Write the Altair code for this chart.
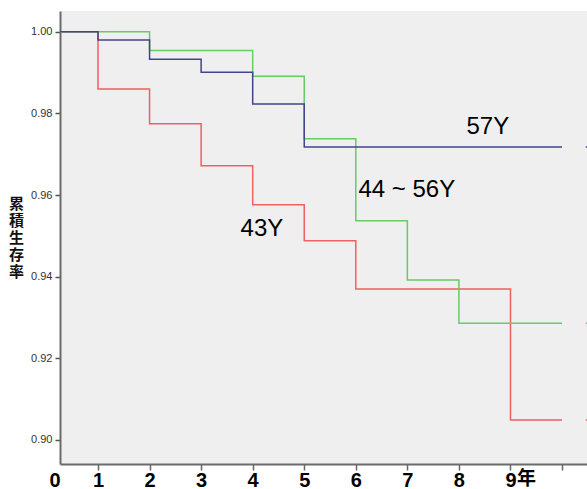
import altair as alt
import pandas as pd

# ---- data ----
years = [0, 1, 2, 3, 4, 5, 6, 7, 8, 9, 10]
s57 = [1.000, 0.9980, 0.9933, 0.9901, 0.9823, 0.9718, 0.9718, 0.9718, 0.9718, 0.9718, 0.9718]
s44_56 = [1.000, 1.000, 0.9954, 0.9954, 0.9891, 0.9738, 0.9537, 0.9392, 0.9286, 0.9286, 0.9286]
s43 = [1.000, 0.9860, 0.9775, 0.9672, 0.9576, 0.9488, 0.9370, 0.9370, 0.9370, 0.9049, 0.9049]
series_names = ["43Y", "44～56Y", "57Y"]
series_colors = ["#f06060", "#66cc66", "#44448a"]
y_ticks = [0.90, 0.92, 0.94, 0.96, 0.98, 1.00]
x_ticks = [1, 2, 3, 4, 5, 6, 7, 8, 9, 10]

rows = []
for name, vals in zip(series_names, [s43, s44_56, s57]):
    for t, v in zip(years, vals):
        rows.append({"t": t, "s": v, "g": name})
df = pd.DataFrame(rows)

# continuation stubs at right edge
tail_t0 = 10.46
tail_t1 = 10.7
tail_rows = []
for name, vals in zip(series_names, [s43, s44_56, s57]):
    tail_rows.append({"t": tail_t0, "t2": tail_t1, "s": vals[-1], "g": name})
tail = pd.DataFrame(tail_rows)

labels = pd.DataFrame({
    "t": [8.56, 6.99, 4.18],
    "s": [0.9767, 0.9613, 0.9517],
    "txt": ["57Y", "44 ~ 56Y", "43Y"],
})

xs = alt.Scale(domain=[0.263, 10.484], nice=False, zero=False)
ys = alt.Scale(domain=[0.8941, 1.0051], nice=False, zero=False)
col = alt.Scale(domain=series_names, range=series_colors)

lines = alt.Chart(df).mark_line(interpolate="step-after", strokeWidth=1.5, clip=True).encode(
    x=alt.X("t:Q", scale=xs,
            axis=alt.Axis(values=x_ticks, title=None, grid=False,
                          labelExpr="datum.value == 10 ? '' : datum.value",
                          labelFontSize=20, labelFontWeight="bold", labelColor="#000",
                          labelFont="Liberation Sans", labelPadding=0,
                          tickSize=6, tickColor="#666", tickWidth=1.5,
                          domainColor="#6b6b6b", domainWidth=2)),
    y=alt.Y("s:Q", scale=ys,
            axis=alt.Axis(values=y_ticks, format=".2f", grid=False,
                          title=["累", "積", "生", "存", "率"], titleAngle=0,
                          titleFont="Noto Sans CJK JP", titleFontSize=15, titleFontWeight="bold",
                          titleColor="#111", titleX=-44, titleY=185, titleAlign="center",
                          titleBaseline="top", titleLineHeight=17,
                          labelFontSize=11, labelColor="#333", labelFont="Liberation Sans",
                          labelPadding=3, tickSize=5, tickColor="#555", tickWidth=1.5,
                          domainColor="#6b6b6b", domainWidth=2)),
    color=alt.Color("g:N", scale=col, legend=None),
    order=alt.Order("t:Q"),
    detail="g:N",
)

stubs = alt.Chart(tail).mark_rule(strokeWidth=1.5, clip=True).encode(
    x="t:Q", x2="t2:Q", y="s:Q",
    color=alt.Color("g:N", scale=col, legend=None),
)

ann = alt.Chart(labels).mark_text(fontSize=24, font="Liberation Sans", color="#000",
                                  align="center", baseline="middle").encode(
    x="t:Q", y="s:Q", text="txt:N")

zero_lab = alt.Chart(pd.DataFrame({"t": [0.263], "txt": ["0"]})).mark_text(
    fontSize=20, fontWeight="bold", font="Liberation Sans", color="#000",
    align="center", baseline="top", dx=-5).encode(
    x="t:Q", y=alt.value(460), text="txt:N")

nen_lab = alt.Chart(pd.DataFrame({"t": [9], "txt": ["年"]})).mark_text(
    fontSize=19, fontWeight="bold", font="Noto Sans CJK JP", color="#000",
    align="center", baseline="top", dx=16).encode(
    x="t:Q", y=alt.value(459), text="txt:N")

chart = alt.layer(lines, stubs, ann, zero_lab, nen_lab).properties(
    width=527, height=453,
    padding={"left": 60, "top": 11, "right": 0, "bottom": 25},
    autosize=alt.AutoSizeParams(type="none"),
    background="#ffffff",
).configure_view(fill="#efefef", stroke=None)

chart.save("out.html", embed_options={"renderer": "svg", "actions": False})
